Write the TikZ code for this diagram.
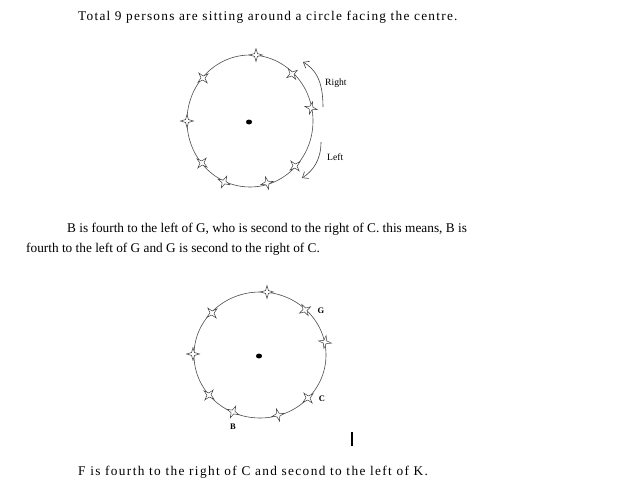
\documentclass[tikz,border=0pt]{standalone}
\usepackage{fontspec}
\setmainfont{Liberation Serif}
\newfontfamily\widefont[LetterSpace=9.5]{Liberation Serif}
\newfontfamily\widerfont[LetterSpace=10.2]{Liberation Serif}
\usetikzlibrary{shapes.geometric,arrows.meta}
\begin{document}
\begin{tikzpicture}[x=1pt,y=-1pt,
  seat/.style={shape=star,star points=4,star point ratio=3.2,minimum size=13pt,inner sep=0pt,draw=black!75,fill=white,line width=0.5pt},
  ring/.style={draw=black!70,line width=0.6pt},
  bodytext/.style={anchor=west,inner sep=0pt,font=\fontsize{13.3}{15}\selectfont},
  widetext/.style={anchor=west,inner sep=0pt,font=\fontsize{13.3}{15}\widefont},
  widertext/.style={anchor=west,inner sep=0pt,font=\fontsize{13.3}{15}\widerfont},
  smalllab/.style={inner sep=0pt,font=\fontsize{9.6}{11}\selectfont},
  seatlab/.style={inner sep=0pt,font=\fontsize{8.5}{10}\selectfont\bfseries},
  turn/.style={draw=black!75,line width=0.6pt,-{Straight Barb[length=5pt,width=8pt]}}]
\useasboundingbox (0,0) rectangle (619,495);
% title
\node[widetext] (title) at (78,17) {Total 9 persons are sitting around a circle facing the centre.};
% first circle
\draw[ring] (250,121) ellipse [x radius=63,y radius=66];
\fill (249,122) circle [x radius=3,y radius=2.5];
\node[seat,rotate=0]   (a1) at (256,55) {};
\node[seat,rotate=35]  (a2) at (292,74) {};
\node[seat,rotate=75]  (a3) at (311,108) {};
\node[seat,rotate=40]  (a4) at (295,166) {};
\node[seat,rotate=15]  (a5) at (267,183) {};
\node[seat,rotate=-25] (a6) at (224,182) {};
\node[seat,rotate=-40] (a7) at (202,163) {};
\node[seat,rotate=0]   (a8) at (187,121) {};
\node[seat,rotate=40]  (a9) at (203,78) {};
\coordinate (r0) at (323,107);
\coordinate (r1) at (303,62);
\coordinate (l0) at (321,142);
\coordinate (l1) at (302,178);
\draw[turn] (r0) .. controls (323,80) and (315,69) .. (r1);
\draw[turn] (l0) .. controls (321,160) and (313,171) .. (l1);
\node[smalllab,anchor=west] (right) at (325,83) {Right};
\node[smalllab,anchor=west] (left) at (327,157) {Left};
% paragraph
\node[bodytext] (p1) at (67,229) {B is fourth to the left of G, who is second to the right of C. this means, B is};
\node[bodytext] (p2) at (26,249) {fourth to the left of G and G is second to the right of C.};
% second circle
\draw[ring] (260,355) ellipse [x radius=66,y radius=63];
\fill (259,356) circle [x radius=3,y radius=2.5];
\node[seat,rotate=0]   (b1) at (267,292) {};
\node[seat,rotate=30]  (b2) at (305,310) {};
\node[seat,rotate=80]  (b3) at (325,342) {};
\node[seat,rotate=40]  (b4) at (308,398) {};
\node[seat,rotate=15]  (b5) at (278,415) {};
\node[seat,rotate=-25] (b6) at (233,412) {};
\node[seat,rotate=-40] (b7) at (209,395) {};
\node[seat,rotate=0]   (b8) at (193,354) {};
\node[seat,rotate=40]  (b9) at (212,313) {};
\node[seatlab] (g) at (321,311) {G};
\node[seatlab] (c) at (322,399) {C};
\node[seatlab] (b) at (233,427) {B};
\fill (350.5,432) rectangle (352.5,446);
% last line
\node[widertext] (p3) at (78,472) {F is fourth to the right of C and second to the left of K.};
\end{tikzpicture}
\end{document}
